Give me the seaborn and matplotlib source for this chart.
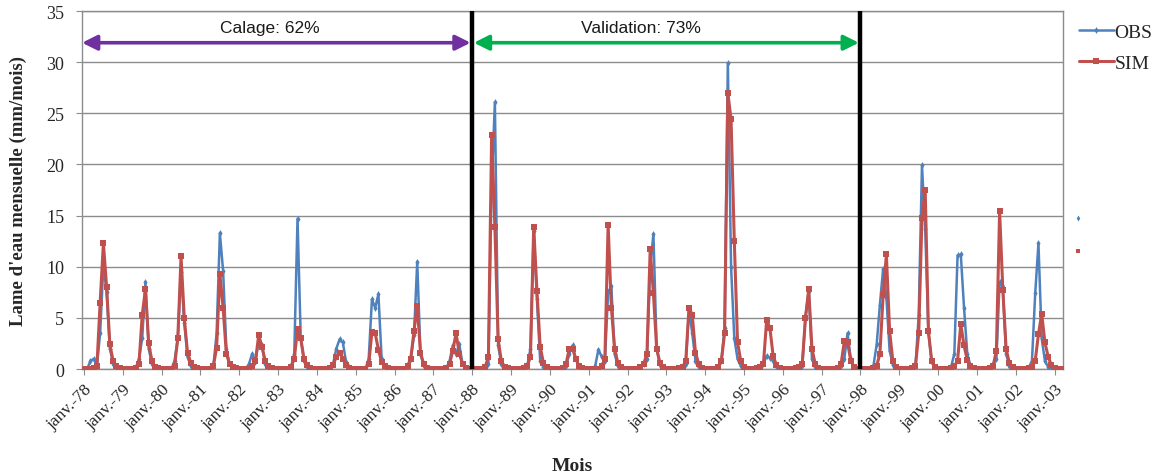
import numpy as np
import pandas as pd
import matplotlib
matplotlib.use("Agg")
import matplotlib.pyplot as plt
import seaborn as sns
from matplotlib.lines import Line2D

# Monthly runoff depth (mm/month), Jan 1978 -> Mar 2003, one line per year
obs = [
    0, 0, 0.8, 1.0, 0.3, 3.5, 10.2, 7.5, 2.0, 0.5, 0.1, 0,      # 1978
    0, 0, 0, 0, 0.1, 1.0, 3.0, 8.5, 2.0, 0.5, 0.1, 0,           # 1979
    0, 0, 0, 0, 0.8, 3.0, 9.5, 4.5, 1.2, 0.3, 0.1, 0,           # 1980
    0, 0, 0, 0, 0.3, 3.5, 13.3, 9.6, 2.0, 0.5, 0.1, 0,          # 1981
    0, 0, 0, 0.5, 1.5, 0.7, 2.8, 2.3, 0.5, 0.1, 0, 0,           # 1982
    0, 0, 0, 0, 0.2, 1.5, 14.7, 3.0, 0.8, 0.2, 0, 0,            # 1983
    0, 0, 0, 0, 0.1, 0.5, 2.0, 2.9, 2.6, 0.7, 0.2, 0,           # 1984
    0, 0, 0, 0, 1.0, 6.8, 6.0, 7.3, 1.0, 0.3, 0.1, 0,           # 1985
    0, 0, 0, 0, 0.2, 1.0, 3.3, 10.5, 1.5, 0.3, 0.1, 0,          # 1986
    0, 0, 0, 0, 0.1, 0.8, 2.3, 1.5, 2.4, 0.5, 0.1, 0,           # 1987
    0, 0, 0, 0, 0.1, 0.5, 18.0, 26.1, 2.3, 0.5, 0.1, 0,         # 1988
    0, 0, 0, 0, 0.1, 0.3, 2.0, 13.5, 6.8, 0.8, 0.2, 0,          # 1989
    0, 0, 0, 0, 0.1, 0.3, 1.5, 2.3, 1.0, 0.3, 0.1, 0,           # 1990
    0, 0, 0.3, 1.9, 1.2, 0.8, 7.5, 8.1, 1.5, 0.3, 0.1, 0,       # 1991
    0, 0, 0, 0, 0.2, 0.5, 1.0, 10.0, 13.2, 2.0, 0.4, 0,         # 1992
    0, 0, 0, 0, 0.1, 0.2, 0.5, 5.9, 3.5, 0.8, 0.2, 0,           # 1993
    0, 0, 0, 0, 0.2, 0.8, 4.0, 29.9, 10.0, 3.0, 1.0, 0.3,       # 1994
    0, 0, 0, 0, 0.1, 0.3, 0.5, 1.3, 1.1, 0.8, 0.3, 0,           # 1995
    0, 0, 0, 0, 0, 0.1, 0.3, 5.2, 7.6, 1.0, 0.2, 0,             # 1996
    0, 0, 0, 0, 0, 0.1, 0.3, 1.0, 3.5, 1.0, 0.2, 0,             # 1997
    0, 0, 0, 0, 0.3, 2.4, 6.3, 9.8, 7.0, 1.8, 0.4, 0,           # 1998
    0, 0, 0, 0, 0.1, 0.3, 5.3, 19.9, 13.7, 3.5, 0.7, 0.1,       # 1999
    0, 0, 0, 0, 0.2, 1.5, 11.1, 11.2, 6.0, 1.5, 0.3, 0,         # 2000
    0, 0, 0, 0, 0.1, 0.5, 1.0, 8.5, 8.0, 1.5, 0.3, 0,           # 2001
    0, 0, 0, 0, 0.1, 0.8, 7.4, 12.3, 3.0, 0.8, 0.2, 0,          # 2002
    0, 0, 0,                                                    # 2003
]

sim = [
    0, 0, 0, 0.1, 0.3, 6.5, 12.3, 8.0, 2.4, 0.8, 0.3, 0.1,      # 1978
    0, 0, 0, 0, 0.1, 0.5, 5.3, 7.8, 2.5, 0.8, 0.2, 0.1,         # 1979
    0, 0, 0, 0, 0.3, 3.0, 11.0, 5.0, 1.6, 0.6, 0.2, 0.1,        # 1980
    0, 0, 0, 0, 0.3, 2.1, 9.3, 6.0, 1.5, 0.5, 0.2, 0.1,         # 1981
    0, 0, 0, 0, 0.3, 0.8, 3.3, 2.2, 0.8, 0.3, 0.1, 0,           # 1982
    0, 0, 0, 0, 0.2, 1.0, 3.9, 3.0, 1.0, 0.4, 0.1, 0,           # 1983
    0, 0, 0, 0, 0.1, 0.4, 1.2, 1.6, 1.0, 0.4, 0.1, 0,           # 1984
    0, 0, 0, 0, 0.5, 3.6, 3.5, 1.9, 0.7, 0.3, 0.1, 0,           # 1985
    0, 0, 0, 0, 0.3, 1.0, 3.7, 6.2, 1.6, 0.5, 0.1, 0,           # 1986
    0, 0, 0, 0, 0.1, 0.5, 1.8, 3.5, 1.5, 0.5, 0.1, 0,           # 1987
    0, 0, 0, 0, 0.2, 1.2, 22.9, 13.9, 2.9, 0.8, 0.2, 0.1,       # 1988
    0, 0, 0, 0, 0.1, 0.3, 1.2, 13.9, 7.6, 2.2, 0.6, 0.2,        # 1989
    0, 0, 0, 0, 0.1, 0.5, 2.0, 2.0, 1.0, 0.3, 0.1, 0,           # 1990
    0, 0, 0, 0, 0.3, 1.0, 14.1, 6.0, 2.0, 0.6, 0.2, 0,          # 1991
    0, 0, 0, 0, 0.2, 0.5, 1.5, 11.7, 7.4, 2.0, 0.6, 0.2,        # 1992
    0, 0, 0, 0, 0.1, 0.2, 0.8, 6.0, 5.3, 1.6, 0.5, 0.1,         # 1993
    0, 0, 0, 0, 0.2, 0.8, 3.5, 27.0, 24.4, 12.5, 2.6, 0.8,      # 1994
    0.2, 0, 0, 0, 0.1, 0.2, 0.5, 4.8, 4.0, 1.3, 0.4, 0.1,       # 1995
    0, 0, 0, 0, 0.1, 0.2, 0.5, 5.0, 7.8, 2.0, 0.5, 0.1,         # 1996
    0, 0, 0, 0, 0, 0.1, 0.5, 2.7, 2.6, 0.8, 0.2, 0,             # 1997
    0, 0, 0, 0, 0.1, 0.3, 1.5, 7.2, 11.2, 3.7, 0.8, 0.2,        # 1998
    0, 0, 0, 0, 0.1, 0.3, 3.5, 14.8, 17.5, 3.7, 0.8, 0.2,       # 1999
    0, 0, 0, 0, 0.1, 0.3, 0.8, 4.4, 2.3, 0.9, 0.3, 0.1,         # 2000
    0, 0, 0, 0, 0.1, 0.3, 1.8, 15.4, 7.7, 2.0, 0.6, 0.2,        # 2001
    0, 0, 0, 0, 0.1, 0.2, 0.8, 3.4, 5.4, 2.6, 1.2, 0.4,         # 2002
    0.1, 0, 0,                                                  # 2003
]

years = list(range(1978, 2004))
tick_labels = ["janv.-%02d" % (y % 100) for y in years]
period_labels = ["Calage: 62%", "Validation: 73%"]
split_years = [1988, 1998]
series_names = ["OBS", "SIM"]

n = min(len(obs), len(sim))
month_idx = np.arange(n)
df = pd.DataFrame({"Mois": month_idx, "OBS": obs[:n], "SIM": sim[:n]})

sns.set_style("white")
plt.rcParams["font.family"] = ["Liberation Serif", "DejaVu Serif"]

BLUE = "#4F81BD"
RED = "#C0504D"
GRID = "#8C8C8C"

fig = plt.figure(figsize=(11.59, 4.77), dpi=100)
ax = fig.add_axes([0.0705, 0.2243, 0.8467, 0.7505])

sns.lineplot(data=df, x="Mois", y="OBS", ax=ax, color=BLUE, lw=1.8,
             marker="d", markersize=3.5, markeredgewidth=0, label="OBS", legend=False, zorder=3)
sns.lineplot(data=df, x="Mois", y="SIM", ax=ax, color=RED, lw=2.2,
             marker="s", markersize=4.2, markeredgewidth=0, label="SIM", legend=False, zorder=4)

ax.set_ylim(0, 35)
ax.set_xlim(-0.7, n - 0.4)
ax.set_yticks(np.arange(0, 36, 5))
ax.yaxis.grid(True, color=GRID, lw=1.0)
ax.set_axisbelow(True)
tick_pos = [12 * (y - 1978) for y in years]
ax.set_xticks(tick_pos)
ax.set_xticklabels(tick_labels, rotation=45, ha="right", rotation_mode="anchor", fontsize=12.5)
ax.tick_params(axis="y", labelsize=13, length=4.5, color=GRID, direction="out", left=True, pad=8)
ax.tick_params(axis="x", length=4.5, color=GRID, direction="out", bottom=True, pad=4)
for s in ax.spines.values():
    s.set_color(GRID)
    s.set_linewidth(1.0)

ax.set_ylabel("Lame d'eau mensuelle (mm/mois)", fontsize=13.5, fontweight="bold", labelpad=14)
ax.set_xlabel("Mois", fontsize=14, fontweight="bold", labelpad=18)

# split lines
for y in split_years:
    ax.axvline(12 * (y - 1978), color="black", lw=3.2, zorder=5)

# period arrows
x0, x1, x2 = -0.6, 12 * (split_years[0] - 1978), 12 * (split_years[1] - 1978)
ay = 31.9
ax.annotate("", xy=(x0, ay), xytext=(x1 - 0.5, ay),
            arrowprops=dict(arrowstyle="<|-|>,head_length=0.9,head_width=0.45", color="#7030A0", lw=2.6,
                            shrinkA=0, shrinkB=0), zorder=6)
ax.annotate("", xy=(x1 + 0.5, ay), xytext=(x2 - 0.5, ay),
            arrowprops=dict(arrowstyle="<|-|>,head_length=0.9,head_width=0.45", color="#00B050", lw=2.6,
                            shrinkA=0, shrinkB=0), zorder=6)
ax.text(57.5, 33.4, period_labels[0], ha="center", va="center", fontsize=12.5,
        family=["Liberation Sans", "DejaVu Sans"], color="#1a1a1a")
ax.text(172, 33.4, period_labels[1], ha="center", va="center", fontsize=12.5,
        family=["Liberation Sans", "DejaVu Sans"], color="#1a1a1a")

# legend
handles = [Line2D([], [], color=BLUE, lw=1.8, marker="d", markersize=3.5, markeredgewidth=0),
           Line2D([], [], color=RED, lw=2.2, marker="s", markersize=4.2, markeredgewidth=0)]
fig.legend(handles, series_names, loc="upper left", bbox_to_anchor=(0.9155, 0.985),
           frameon=False, fontsize=14, handlelength=1.8, handletextpad=0.05, labelspacing=0.65)

# stray marker remnants on the right of the plot
fig.add_artist(Line2D([1078 / 1159], [1 - 219 / 477], marker="d", color=BLUE, ms=3,
                      markeredgewidth=0, transform=fig.transFigure))
fig.add_artist(Line2D([1078 / 1159], [1 - 252 / 477], marker="s", color=RED, ms=2.5,
                      markeredgewidth=0, transform=fig.transFigure))

fig.savefig("out.png", dpi=100)
